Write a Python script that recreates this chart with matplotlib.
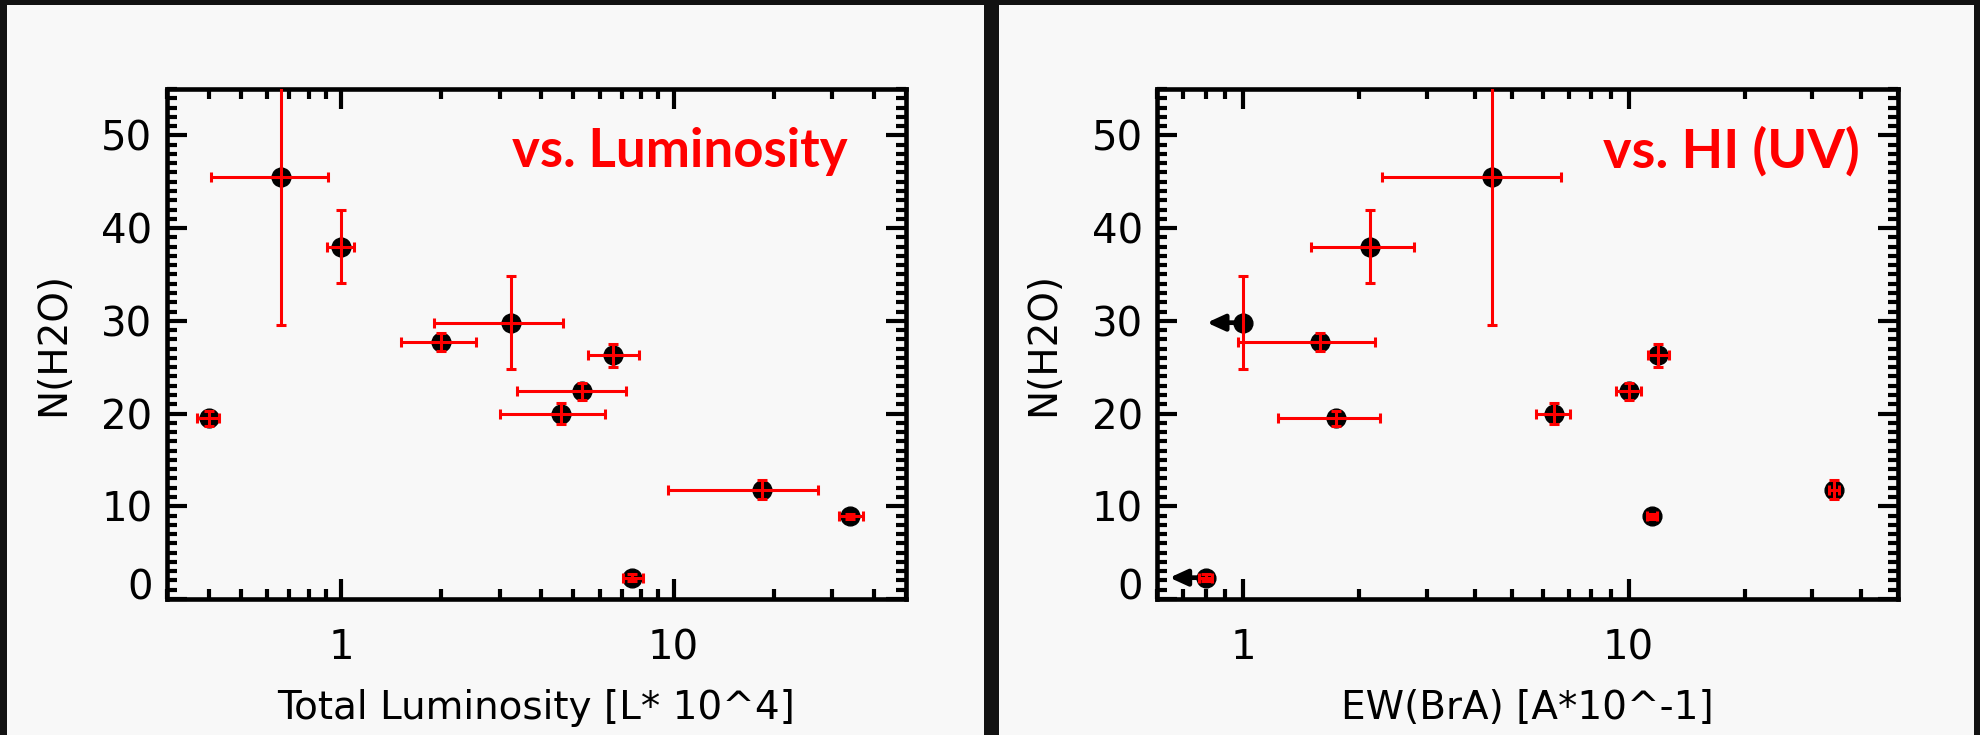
import matplotlib
matplotlib.use("Agg")
import numpy as np
import matplotlib.pyplot as plt
from matplotlib.patches import Rectangle
from matplotlib.ticker import FixedLocator, FixedFormatter, NullFormatter, MultipleLocator

# --- water column density per source (shared by both panels) ---
n_h2o = [19.5, 45.5, 38.0, 27.7, 29.8, 26.3, 22.4, 20.0, 11.8, 8.9, 2.3]
n_err = [0.8, 16.0, 3.9, 1.0, 5.0, 1.25, 0.9, 1.15, 1.0, 0.3, 0.4]

# --- total luminosity [L* 10^4] with lower / upper bounds ---
lum = [0.40, 0.66, 1.0, 2.0, 3.24, 6.6, 5.3, 4.6, 18.4, 34.0, 7.5]
lum_lo = [0.368, 0.408, 0.91, 1.52, 1.90, 5.52, 3.38, 3.0, 9.63, 31.5, 7.04]
lum_hi = [0.43, 0.912, 1.097, 2.54, 4.64, 7.9, 7.2, 6.21, 27.2, 37.2, 8.1]

# --- Br alpha equivalent width [A*10^-1] with bounds; upper limits flagged ---
ew = [1.74, 4.42, 2.13, 1.58, 1.0, 11.9, 10.0, 6.41, 34.2, 11.5, 0.80]
ew_lo = [1.23, 2.30, 1.50, 0.969, np.nan, 11.2, 9.27, 5.75, 33.2, 11.15, 0.77]
ew_hi = [2.27, 6.67, 2.78, 2.195, np.nan, 12.7, 10.75, 7.05, 35.2, 11.85, 0.83]
ew_upper = [False, False, False, False, True, False, False, False, False, False, True]

# --- axis settings and labels ---
y_ticks = [0, 10, 20, 30, 40, 50]
x_ticks = [1, 10]
x_ticklabels = ["1", "10"]
lum_range = (0.3, 50)
ew_range = (0.6, 50)
y_range = (0, 55)
ylabel = "N(H2O)"
xlabel_lum = "Total Luminosity [L* 10^4]"
xlabel_ew = "EW(BrA) [A*10^-1]"
tag_lum = "vs. Luminosity"
tag_ew = "vs. HI (UV)"

W, H = 1981, 735
BG = "#f8f8f8"
RED = "#ff0000"

fig = plt.figure(figsize=(W / 100, H / 100), dpi=100, facecolor="#121212")
for x0, x1 in [(7, 984), (999, 1974)]:
    fig.patches.append(Rectangle((x0 / W, 0), (x1 - x0) / W, (H - 5) / H,
                                 transform=fig.transFigure, facecolor=BG,
                                 edgecolor="none", zorder=-1))


def minor_log_ticks(lo, hi):
    vals = []
    for dec in [0.1, 1, 10]:
        for m in range(2, 10):
            v = m * dec
            if lo <= v <= hi:
                vals.append(v)
    return vals


def style_axes(ax, xr):
    ax.set_facecolor(BG)
    ax.set_xscale("log")
    ax.set_xlim(*xr)
    ax.set_ylim(*y_range)
    ax.xaxis.set_major_locator(FixedLocator(x_ticks))
    ax.xaxis.set_major_formatter(FixedFormatter(x_ticklabels))
    ax.xaxis.set_minor_locator(FixedLocator(minor_log_ticks(*xr)))
    ax.xaxis.set_minor_formatter(NullFormatter())
    ax.yaxis.set_major_locator(FixedLocator(y_ticks))
    ax.yaxis.set_minor_locator(MultipleLocator(1))
    for s in ax.spines.values():
        s.set_linewidth(3.3)
        s.set_color("black")
    ax.tick_params(which="both", direction="in", top=True, right=True,
                   width=3.0, color="black")
    ax.tick_params(which="major", length=14.6)
    ax.tick_params(which="minor", length=7.0)
    ax.tick_params(axis="x", which="major", pad=21, labelsize=29)
    ax.tick_params(axis="y", which="major", pad=10.5, labelsize=29)
    ax.yaxis.get_major_ticks()[0].label1.set_verticalalignment("baseline")
    ax.set_ylabel(ylabel, fontsize=28, rotation=90, ha="center", va="center")
    ax.yaxis.set_label_coords(-0.154, 0.5)


def draw_points(ax, x, lo, hi):
    x = np.asarray(x, float)
    lo = np.asarray(lo, float)
    hi = np.asarray(hi, float)
    y = np.asarray(n_h2o, float)
    ye = np.asarray(n_err, float)
    ax.plot(x, y, "o", ms=13.5, color="black", zorder=3)
    ax.errorbar(x, y, yerr=ye, fmt="none", ecolor=RED, elinewidth=2.2,
                capsize=3.3, capthick=2.2, zorder=4)
    ok = np.isfinite(lo) & np.isfinite(hi)
    ax.errorbar(x[ok], y[ok], xerr=[x[ok] - lo[ok], hi[ok] - x[ok]],
                fmt="none", ecolor=RED, elinewidth=2.2, capsize=3.3,
                capthick=2.2, zorder=4)


# left panel: luminosity
ax1 = fig.add_axes([167 / W, 1 - 599 / H, (906 - 167) / W, 510 / H])
style_axes(ax1, lum_range)
draw_points(ax1, lum, lum_lo, lum_hi)
ax1.set_xlabel(xlabel_lum, fontsize=28)
ax1.xaxis.label.set_verticalalignment("baseline")
ax1.xaxis.set_label_coords(0.5, -0.236)
ax1.text(0.9215, 0.8465, tag_lum, transform=ax1.transAxes, ha="right",
         va="baseline", color=RED, fontsize=38, fontweight="bold",
         family=["Lato", "DejaVu Sans"], zorder=5)

# right panel: Br alpha equivalent width
ax2 = fig.add_axes([1157.5 / W, 1 - 599 / H, (1898 - 1157.5) / W, 510 / H])
style_axes(ax2, ew_range)
draw_points(ax2, ew, ew_lo, ew_hi)
for xv, yv, up in zip(ew, n_h2o, ew_upper):
    if up:
        ax2.annotate("", xy=(xv, yv), xycoords="data", xytext=(-26, 0),
                     textcoords="offset points",
                     arrowprops=dict(arrowstyle="<|-,head_length=1.05,head_width=0.48",
                                     mutation_scale=10, lw=3.4, color="black",
                                     shrinkA=0, shrinkB=0),
                     zorder=3)
ax2.set_xlabel(xlabel_ew, fontsize=28)
ax2.xaxis.label.set_verticalalignment("baseline")
ax2.xaxis.set_label_coords(0.5, -0.236)
ax2.text(0.9487, 0.8465, tag_ew, transform=ax2.transAxes, ha="right",
         va="baseline", color=RED, fontsize=39, fontweight="bold",
         family=["Lato", "DejaVu Sans"], zorder=5)

# fix the view after the marks are in place
for ax, xr in [(ax1, lum_range), (ax2, ew_range)]:
    ax.set_xlim(*xr)
    ax.set_ylim(*y_range)

fig.savefig("out.png", dpi=100, facecolor=fig.get_facecolor())
